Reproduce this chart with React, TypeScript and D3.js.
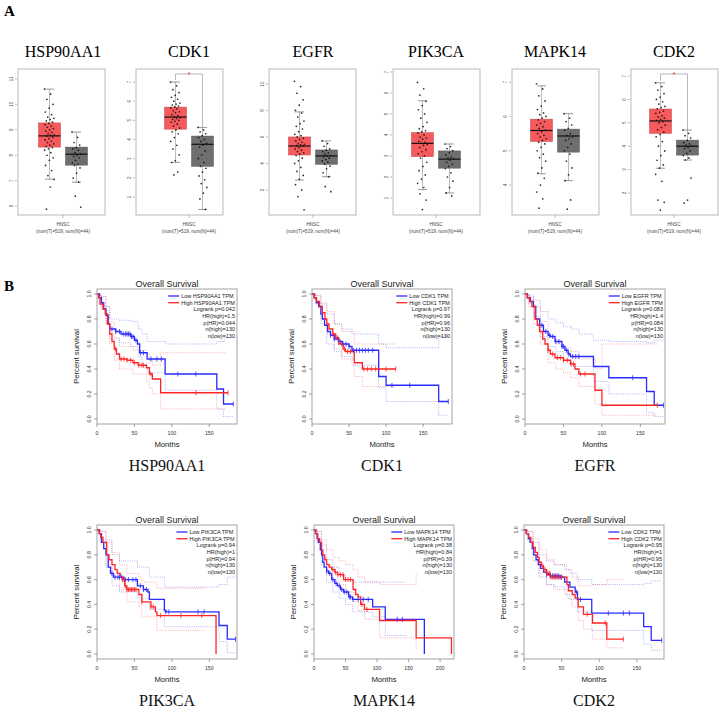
import React from 'react';
import * as d3 from 'd3';

type Step = [number, number];

const genes = ['HSP90AA1', 'CDK1', 'EGFR', 'PIK3CA', 'MAPK14', 'CDK2'];

// ---- Panel A: expression box plots (log2(TPM+1)) ----
const boxTicks = [
  [6, 7, 8, 9, 10, 11],
  [1, 2, 3, 4, 5, 6, 7],
  [2, 4, 6, 8, 10],
  [1, 2, 3, 4, 5, 6, 7],
  [4, 5, 6, 7],
  [2, 3, 4, 5, 6, 7],
];
const boxDomains = [[5.65, 11.39], [0.06, 7.68], [0.11, 11.13], [0.19, 7.14], [3.13, 7.38], [1.06, 7.3]];
// [lower whisker, q1, median, q3, upper whisker]
const tumorStats = [
  [7.06, 8.32, 8.76, 9.27, 10.6],
  [2.81, 4.54, 5.17, 5.69, 7.0],
  [2.75, 4.64, 5.32, 6.0, 7.89],
  [1.4, 2.97, 3.6, 4.11, 5.63],
  [4.33, 5.27, 5.59, 5.92, 6.89],
  [3.06, 4.55, 5.08, 5.59, 6.71],
];
const normalStats = [
  [6.94, 7.61, 8.04, 8.32, 8.91],
  [0.35, 2.6, 3.75, 4.18, 4.63],
  [3.0, 3.94, 4.57, 5.02, 5.7],
  [1.24, 2.42, 2.85, 3.24, 3.57],
  [4.13, 4.96, 5.43, 5.63, 6.08],
  [3.41, 3.62, 4.0, 4.26, 4.69],
];
const tumorPoints = [
  [10.6, 10.4, 10.2, 10.0, 9.85, 9.7, 9.6, 9.5, 9.45, 9.4, 9.35, 9.3, 9.25, 9.2, 9.15, 9.1, 9.05, 9.0, 8.95, 8.9, 8.85, 8.8, 8.78, 8.75, 8.7, 8.65, 8.6, 8.55, 8.5, 8.45, 8.4, 8.35, 8.3, 8.25, 8.2, 8.1, 8.0, 7.9, 7.8, 7.6, 7.4, 7.2, 7.05, 6.75, 5.88],
  [7.0, 6.8, 6.6, 6.45, 6.3, 6.2, 6.1, 6.0, 5.9, 5.85, 5.8, 5.75, 5.7, 5.65, 5.6, 5.5, 5.45, 5.4, 5.3, 5.25, 5.2, 5.15, 5.1, 5.05, 5.0, 4.95, 4.9, 4.8, 4.7, 4.6, 4.5, 4.4, 4.3, 4.1, 3.9, 3.7, 3.5, 3.2, 2.9, 2.8, 2.3, 2.15],
  [10.2, 9.8, 9.3, 8.8, 8.4, 8.0, 7.8, 7.5, 7.2, 7.0, 6.8, 6.6, 6.4, 6.2, 6.1, 6.0, 5.9, 5.8, 5.7, 5.6, 5.5, 5.45, 5.4, 5.35, 5.3, 5.2, 5.1, 5.0, 4.9, 4.8, 4.7, 4.6, 4.4, 4.2, 4.0, 3.7, 3.4, 3.1, 2.8, 2.4, 2.0, 1.5, 0.5],
  [6.5, 6.2, 5.9, 5.6, 5.4, 5.2, 5.0, 4.8, 4.6, 4.4, 4.3, 4.2, 4.15, 4.1, 4.0, 3.9, 3.85, 3.8, 3.7, 3.65, 3.6, 3.55, 3.5, 3.4, 3.3, 3.2, 3.1, 3.0, 2.9, 2.7, 2.5, 2.3, 2.1, 1.9, 1.7, 1.5, 1.2, 0.9, 0.45],
  [6.95, 6.8, 6.6, 6.45, 6.3, 6.2, 6.1, 6.05, 6.0, 5.95, 5.9, 5.85, 5.8, 5.75, 5.7, 5.65, 5.6, 5.55, 5.5, 5.45, 5.4, 5.35, 5.3, 5.25, 5.2, 5.1, 5.0, 4.9, 4.8, 4.7, 4.5, 4.35, 4.2, 4.0, 3.8, 3.6, 3.33],
  [6.71, 6.55, 6.4, 6.25, 6.1, 6.0, 5.9, 5.8, 5.7, 5.65, 5.6, 5.5, 5.45, 5.4, 5.3, 5.25, 5.2, 5.15, 5.1, 5.05, 5.0, 4.9, 4.8, 4.7, 4.6, 4.5, 4.4, 4.2, 4.0, 3.8, 3.6, 3.4, 3.2, 3.06, 2.8, 2.5, 1.7, 1.6, 1.27],
];
const normalPoints = [
  [8.91, 8.7, 8.5, 8.4, 8.3, 8.25, 8.2, 8.1, 8.05, 8.0, 7.95, 7.9, 7.8, 7.7, 7.65, 7.6, 7.5, 7.3, 7.1, 6.94, 6.39, 5.96],
  [4.63, 4.5, 4.4, 4.3, 4.2, 4.1, 4.0, 3.9, 3.8, 3.7, 3.6, 3.4, 3.2, 3.0, 2.8, 2.6, 2.5, 2.3, 2.1, 1.9, 1.7, 1.5, 1.2, 0.9, 0.35],
  [5.7, 5.5, 5.3, 5.1, 5.0, 4.9, 4.8, 4.7, 4.6, 4.55, 4.5, 4.4, 4.3, 4.2, 4.1, 3.95, 3.8, 3.6, 3.3, 3.0, 2.25, 1.87],
  [3.57, 3.45, 3.35, 3.25, 3.15, 3.05, 2.95, 2.9, 2.85, 2.8, 2.7, 2.6, 2.5, 2.4, 2.2, 2.0, 1.8, 1.5, 1.24, 1.1],
  [6.08, 5.95, 5.85, 5.75, 5.65, 5.6, 5.5, 5.45, 5.4, 5.35, 5.3, 5.2, 5.1, 5.0, 4.9, 4.7, 4.5, 4.3, 4.13, 3.57, 3.3],
  [4.69, 4.55, 4.45, 4.35, 4.25, 4.15, 4.1, 4.05, 4.0, 3.95, 3.9, 3.8, 3.7, 3.6, 3.5, 3.41, 2.64, 1.7, 1.57],
];
const significant = [false, true, false, false, false, true];

// ---- Panel B: overall survival (Kaplan-Meier steps: [month, survival]) ----
const survLow: Step[][] = [
  [[3, 0.97], [6, 0.93], [9, 0.88], [12, 0.83], [15, 0.76], [17, 0.72], [25, 0.7], [32, 0.68], [45, 0.66], [50, 0.63], [54, 0.6], [57, 0.53], [67, 0.48], [91, 0.36], [160, 0.24], [169, 0.12]],
  [[3, 0.97], [6, 0.93], [9, 0.9], [12, 0.84], [14, 0.8], [17, 0.75], [21, 0.7], [25, 0.67], [30, 0.64], [36, 0.62], [41, 0.6], [50, 0.58], [54, 0.55], [90, 0.34], [100, 0.27], [171, 0.14]],
  [[3, 0.97], [7, 0.94], [11, 0.9], [14, 0.8], [19, 0.75], [24, 0.7], [30, 0.67], [33, 0.66], [39, 0.62], [48, 0.58], [52, 0.55], [56, 0.52], [59, 0.5], [89, 0.42], [109, 0.33], [158, 0.22], [168, 0.11]],
  [[3, 0.97], [6, 0.9], [9, 0.85], [12, 0.8], [15, 0.7], [18, 0.65], [22, 0.62], [36, 0.6], [54, 0.55], [62, 0.52], [68, 0.5], [70, 0.44], [90, 0.35], [92, 0.34], [163, 0.23], [174, 0.12]],
  [[2, 0.97], [5, 0.93], [7, 0.9], [10, 0.84], [12, 0.8], [14, 0.74], [16, 0.7], [20, 0.67], [23, 0.65], [28, 0.6], [33, 0.57], [37, 0.55], [42, 0.52], [47, 0.5], [55, 0.46], [61, 0.44], [93, 0.38], [113, 0.28], [175, 0]],
  [[3, 0.97], [6, 0.93], [8, 0.9], [11, 0.85], [13, 0.8], [16, 0.76], [19, 0.72], [22, 0.69], [26, 0.66], [30, 0.64], [35, 0.63], [48, 0.62], [54, 0.58], [61, 0.54], [68, 0.5], [71, 0.44], [90, 0.33], [159, 0.22], [169, 0.11]],
];
const survHigh: Step[][] = [
  [[2, 0.97], [4, 0.92], [8, 0.88], [11, 0.84], [14, 0.76], [17, 0.68], [20, 0.62], [23, 0.56], [26, 0.52], [30, 0.48], [40, 0.47], [48, 0.45], [55, 0.43], [66, 0.41], [70, 0.36], [74, 0.32], [85, 0.21]],
  [[3, 0.97], [6, 0.94], [10, 0.9], [14, 0.85], [17.5, 0.8], [20, 0.76], [23, 0.72], [28, 0.68], [32, 0.65], [36, 0.6], [42, 0.56], [45, 0.54], [57, 0.45], [68, 0.4]],
  [[3, 0.97], [6, 0.94], [9, 0.9], [13, 0.8], [16, 0.75], [19, 0.7], [23, 0.64], [26, 0.6], [30, 0.55], [33, 0.52], [39, 0.49], [50, 0.47], [59, 0.44], [65, 0.4], [70, 0.36], [91, 0.23], [100, 0.11]],
  [[3, 0.97], [5, 0.94], [8, 0.9], [13, 0.8], [16, 0.76], [20, 0.72], [24, 0.68], [27, 0.65], [31, 0.62], [34, 0.6], [37, 0.55], [40, 0.52], [56, 0.48], [60, 0.42], [72, 0.38], [78, 0.34], [80, 0.31], [159, 0]],
  [[3, 0.97], [6, 0.93], [9, 0.9], [12, 0.84], [14, 0.8], [17, 0.76], [20, 0.72], [24, 0.7], [28, 0.68], [33, 0.66], [37, 0.64], [47, 0.6], [62, 0.52], [66, 0.48], [70, 0.46], [74, 0.4], [80, 0.36], [104, 0.27], [162, 0.13], [218, 0]],
  [[3, 0.97], [6, 0.94], [9, 0.9], [12, 0.86], [15, 0.82], [18, 0.78], [20, 0.74], [23, 0.71], [26, 0.68], [30, 0.65], [35, 0.62], [57, 0.56], [59, 0.51], [64, 0.48], [68, 0.45], [72, 0.38], [79, 0.32], [91, 0.25], [110, 0.12]],
];
const survLowEnd = [182, 184, 180, 185, 175, 183];
const survHighEnd = [175, 113, 172, 159, 218, 132];

// 95% confidence bands
const ciLowUpper: Step[][] = [
  [[5, 0.98], [12, 0.9], [17, 0.8], [30, 0.79], [45, 0.78], [55, 0.72], [60, 0.68], [67, 0.62], [92, 0.6], [160, 0.62], [170, 0.65]],
  [[5, 0.99], [12, 0.92], [20, 0.84], [30, 0.76], [40, 0.72], [54, 0.68], [90, 0.6], [100, 0.57], [171, 0.66]],
  [[5, 0.99], [11, 0.95], [20, 0.86], [30, 0.8], [40, 0.77], [50, 0.74], [60, 0.72], [70, 0.68], [89, 0.63], [109, 0.62], [158, 0.61], [168, 0.63]],
  [[5, 0.99], [12, 0.92], [20, 0.8], [30, 0.75], [54, 0.7], [70, 0.62], [90, 0.54], [163, 0.56], [174, 0.62]],
  [[5, 0.99], [12, 0.88], [20, 0.76], [30, 0.7], [40, 0.64], [50, 0.6], [61, 0.58]],
  [[5, 0.99], [12, 0.9], [20, 0.8], [30, 0.75], [40, 0.72], [54, 0.68], [61, 0.65], [71, 0.6], [90, 0.56], [159, 0.57], [169, 0.59]],
];
const ciLowLower: Step[][] = [
  [[5, 0.9], [12, 0.76], [17, 0.64], [30, 0.61], [45, 0.58], [55, 0.5], [60, 0.44], [67, 0.37], [91, 0.23], [160, 0.08], [169, 0.02]],
  [[5, 0.92], [12, 0.76], [20, 0.6], [30, 0.54], [40, 0.5], [54, 0.43], [90, 0.25], [100, 0.14], [171, 0.03]],
  [[5, 0.92], [11, 0.82], [20, 0.66], [30, 0.58], [40, 0.54], [50, 0.47], [60, 0.42], [89, 0.3], [109, 0.2], [158, 0.05], [168, 0.02]],
  [[5, 0.92], [12, 0.7], [20, 0.55], [30, 0.5], [54, 0.45], [70, 0.36], [90, 0.22], [163, 0.1], [174, 0.01]],
  [[5, 0.9], [12, 0.72], [20, 0.58], [30, 0.5], [40, 0.45], [50, 0.4], [61, 0.34], [93, 0.3], [113, 0.15]],
  [[5, 0.92], [12, 0.75], [20, 0.62], [30, 0.56], [40, 0.54], [54, 0.48], [61, 0.44], [71, 0.34], [90, 0.19], [159, 0.08], [169, 0.03]],
];
const ciHighUpper: Step[][] = [
  [[5, 0.98], [12, 0.9], [17, 0.78], [23, 0.65], [30, 0.58], [48, 0.55], [66, 0.52], [70, 0.47], [74, 0.43], [85, 0.53]],
  [[5, 0.99], [12, 0.93], [20, 0.86], [30, 0.76], [40, 0.7], [57, 0.6], [68, 0.6]],
  [[5, 0.98], [11, 0.9], [20, 0.78], [30, 0.65], [40, 0.6], [50, 0.57], [59, 0.54], [70, 0.48], [91, 0.4], [100, 0.6]],
  [[5, 0.99], [12, 0.9], [20, 0.82], [30, 0.72], [40, 0.65], [56, 0.62], [60, 0.58], [80, 0.53]],
  [[5, 0.99], [12, 0.92], [20, 0.84], [30, 0.78], [40, 0.75], [50, 0.72], [62, 0.68], [70, 0.62], [80, 0.58], [104, 0.56], [162, 0.65]],
  [[5, 0.99], [12, 0.93], [20, 0.84], [30, 0.76], [40, 0.72], [57, 0.68], [64, 0.62], [72, 0.55], [91, 0.56], [110, 0.6]],
];
const ciHighLower: Step[][] = [
  [[5, 0.88], [12, 0.76], [17, 0.6], [23, 0.47], [30, 0.4], [48, 0.36], [66, 0.3], [70, 0.25], [74, 0.2], [85, 0.08]],
  [[5, 0.93], [12, 0.8], [20, 0.68], [30, 0.56], [40, 0.48], [57, 0.34], [68, 0.26]],
  [[5, 0.9], [11, 0.76], [20, 0.6], [30, 0.45], [40, 0.4], [50, 0.37], [59, 0.33], [70, 0.26], [91, 0.12], [100, 0.03]],
  [[5, 0.9], [12, 0.72], [20, 0.62], [30, 0.52], [40, 0.42], [56, 0.38], [60, 0.3], [80, 0.19]],
  [[5, 0.92], [12, 0.78], [20, 0.64], [30, 0.6], [40, 0.56], [50, 0.5], [62, 0.42], [70, 0.35], [80, 0.28], [104, 0.13], [162, 0.04]],
  [[5, 0.93], [12, 0.8], [20, 0.65], [30, 0.56], [40, 0.52], [57, 0.45], [64, 0.38], [72, 0.27], [79, 0.2], [91, 0.12], [110, 0.05]],
];
const ciLowEnd = [182, 184, 180, 185, 145, 183];
const ciHighEnd = [172, 113, 172, 145, 162, 132];

// censoring times (months)
const censorLow = [
  [20, 25, 30, 35, 38, 40, 42, 44, 46, 48, 52, 58, 62, 72, 80, 86, 108, 132, 182],
  [25, 30, 35, 38, 42, 46, 50, 56, 60, 64, 68, 72, 76, 82, 108, 132, 184],
  [22, 27, 32, 36, 40, 44, 48, 50, 54, 57, 62, 66, 70, 140, 180],
  [20, 24, 28, 30, 33, 38, 42, 48, 52, 58, 62, 66, 92, 96, 135, 143, 185],
  [20, 25, 30, 35, 40, 44, 48, 52, 56, 58, 62, 70, 78, 86, 132, 140],
  [30, 35, 38, 40, 42, 44, 46, 48, 50, 70, 75, 112, 132, 140, 183],
];
const censorHigh = [
  [25, 32, 36, 40, 45, 50, 56, 60, 62, 72, 132, 175],
  [28, 34, 40, 44, 48, 52, 70, 75, 80, 86, 100, 113],
  [30, 36, 42, 46, 50, 55, 60, 63, 72, 78, 172],
  [34, 36, 38, 40, 42, 44, 46, 48, 50, 52, 60, 72, 75, 85, 112, 140],
  [30, 34, 38, 42, 46, 50, 54, 58, 76, 84],
  [25, 28, 30, 32, 34, 36, 38, 40, 42, 44, 46, 50, 84, 108, 132],
];
const logrankP = ['0.042', '0.97', '0.083', '0.94', '0.38', '0.95'];
const hrHigh = ['1.5', '0.99', '1.4', '1', '0.84', '1'];
const pHR = ['0.044', '0.96', '0.084', '0.94', '0.39', '0.95'];
const nHigh = [130, 130, 130, 130, 130, 130];
const nLow = [130, 130, 130, 130, 130, 130];
const survXMax = [187, 189, 182, 187, 222, 186];
const survXTicks = [[0, 50, 100, 150], [0, 50, 100, 150], [0, 50, 100, 150], [0, 50, 100, 150], [0, 50, 100, 150, 200], [0, 50, 100, 150]];
const survYTicks = [0, 0.2, 0.4, 0.6, 0.8, 1.0];

// ---- layout ----
const boxX = [18, 136, 269, 393, 512, 631];
const boxCenter = [45, 53, 44, 43, 43, 43];
const BOX_W = 87, BOX_TOP = 69, BOX_BOT = 215;
const survX = [[97, 312, 525], [97, 314, 524]];
const survY = [[294, 419], [530, 654]];
const SURV_W = 140;

const SANS = "'Liberation Sans', Arial, Helvetica, sans-serif";
const SERIF = "'Liberation Serif', 'Times New Roman', serif";
const BLUE = '#2b2bff';
const RED = '#ff2424';

let ctx: CanvasRenderingContext2D | null = null;
function textWidth(t: string, size: number) {
  if (!ctx) ctx = document.createElement('canvas').getContext('2d');
  if (!ctx) return t.length * size * 0.6;
  ctx.font = `${size}px ${SANS}`;
  return ctx.measureText(t).width;
}

function BoxPanel({ i }: { i: number }) {
  const x0 = boxX[i];
  const cx = x0 + boxCenter[i];
  const y = d3.scaleLinear().domain(boxDomains[i]).range([BOX_BOT, BOX_TOP]);
  const groups = [
    { c: cx - 13.5, st: tumorStats[i], pts: tumorPoints[i], fill: '#f75a5c', stroke: '#b84546', jw: 5 },
    { c: cx + 13.5, st: normalStats[i], pts: normalPoints[i], fill: '#6e6e6e', stroke: '#555', jw: 4.5 },
  ];
  const bw = 22;
  return (
    <g>
      <text x={cx} y={57} textAnchor="middle" fontFamily={SERIF} fontSize={16}>{genes[i]}</text>
      <rect x={x0} y={BOX_TOP} width={BOX_W} height={BOX_BOT - BOX_TOP} fill="none" stroke="#a8a8a8" strokeWidth={0.8} />
      {boxTicks[i].map((t) => (
        <g key={t}>
          <line x1={x0 - 3} x2={x0 - 1} y1={y(t)} y2={y(t)} stroke="#777" strokeWidth={0.5} />
          <text transform={`translate(${x0 - 5},${y(t)}) rotate(-90)`} textAnchor="middle" fontSize={4.5} fill="#555">{t}</text>
        </g>
      ))}
      {groups.map((g, k) => {
        const [lw, q1, md, q3, uw] = g.st;
        return (
          <g key={k}>
            <line x1={g.c} x2={g.c} y1={y(uw)} y2={y(lw)} stroke="#777" strokeWidth={0.5} />
            <line x1={g.c - 4.5} x2={g.c + 4.5} y1={y(uw)} y2={y(uw)} stroke="#555" strokeWidth={0.6} />
            <line x1={g.c - 4.5} x2={g.c + 4.5} y1={y(lw)} y2={y(lw)} stroke="#555" strokeWidth={0.6} />
            <rect x={g.c - bw / 2} y={y(q3)} width={bw} height={y(q1) - y(q3)} fill={g.fill} stroke={g.stroke} strokeWidth={0.5} />
            {g.pts.map((v, j) => (
              <circle key={j} cx={g.c + (((j * 0.6180339) % 1) - 0.5) * 2 * g.jw} cy={y(v)} r={0.85} fill="#111" opacity={0.9} />
            ))}
            <line x1={g.c - bw / 2} x2={g.c + bw / 2} y1={y(md)} y2={y(md)} stroke="#111" strokeWidth={1.2} />
          </g>
        );
      })}
      {significant[i] && (
        <g>
          <path
            d={`M${groups[0].c},${y(groups[0].st[4]) - 2}V${BOX_TOP + 5}H${groups[1].c}V${y(groups[1].st[4])}`}
            fill="none" stroke="#888" strokeWidth={0.6} />
          <text x={cx} y={BOX_TOP + 8} textAnchor="middle" fontSize={7} fill="#ff2020">*</text>
        </g>
      )}
      <line x1={cx} x2={cx} y1={BOX_BOT} y2={BOX_BOT + 3} stroke="#777" strokeWidth={0.5} />
      <text x={cx} y={226} textAnchor="middle" fontSize={4.6} fill="#444">HNSC</text>
      <text x={cx} y={233} textAnchor="middle" fontSize={4.6} fill="#444">(num(T)=519; num(N)=44)</text>
    </g>
  );
}

function valueAt(steps: Step[], t: number) {
  let v = 1;
  for (const s of steps) if (s[0] <= t) v = s[1];
  return v;
}

function SurvPanel({ i }: { i: number }) {
  const row = Math.floor(i / 3), col = i % 3;
  const x0 = survX[row][col];
  const [yTop, yBot] = survY[row];
  const x = d3.scaleLinear().domain([0, survXMax[i]]).range([x0, x0 + SURV_W]);
  const y = d3.scaleLinear().domain([0, 1]).range([yBot, yTop]);
  const fTop = yTop - 5, fBot = yBot + 5, fRight = x0 + SURV_W;
  const line = d3.line<Step>().x((d) => x(d[0])).y((d) => y(d[1])).curve(d3.curveStepAfter);
  const path = (steps: Step[], end: number) => {
    const arr: Step[] = [[0, 1], ...steps.filter((s) => s[0] <= end)];
    arr.push([end, arr[arr.length - 1][1]]);
    return line(arr) || '';
  };
  const lowLabel = `Low ${genes[i]} TPM`;
  const highLabel = `High ${genes[i]} TPM`;
  const fs = 5.5;
  const lx = fRight - 2 - textWidth(highLabel, fs);
  const ly = yTop + 2;
  const gap = 6.7;
  const stats = [
    `Logrank p=${logrankP[i]}`,
    `HR(high)=${hrHigh[i]}`,
    `p(HR)=${pHR[i]}`,
    `n(high)=${nHigh[i]}`,
    `n(low)=${nLow[i]}`,
  ];
  const cxm = x0 + SURV_W / 2;
  return (
    <g fontFamily={SANS}>
      <text x={cxm} y={fTop - 2} textAnchor="middle" fontSize={9} fill="#222">Overall Survival</text>
      {/* confidence bands */}
      <path d={path(ciLowUpper[i], ciLowEnd[i])} fill="none" stroke={BLUE} strokeWidth={0.8} strokeDasharray="1,1.2" opacity={0.45} />
      <path d={path(ciLowLower[i], ciLowEnd[i])} fill="none" stroke={BLUE} strokeWidth={0.8} strokeDasharray="1,1.2" opacity={0.45} />
      <path d={path(ciHighUpper[i], ciHighEnd[i])} fill="none" stroke={RED} strokeWidth={0.8} strokeDasharray="1,1.2" opacity={0.45} />
      <path d={path(ciHighLower[i], ciHighEnd[i])} fill="none" stroke={RED} strokeWidth={0.8} strokeDasharray="1,1.2" opacity={0.45} />
      {/* KM curves */}
      <path d={path(survLow[i], survLowEnd[i])} fill="none" stroke={BLUE} strokeWidth={1.3} />
      <path d={path(survHigh[i], survHighEnd[i])} fill="none" stroke={RED} strokeWidth={1.3} />
      {censorLow[i].map((t, j) => (
        <line key={`l${j}`} x1={x(t)} x2={x(t)} y1={y(valueAt(survLow[i], t)) - 2.5} y2={y(valueAt(survLow[i], t)) + 2.5} stroke={BLUE} strokeWidth={0.8} />
      ))}
      {censorHigh[i].map((t, j) => (
        <line key={`h${j}`} x1={x(t)} x2={x(t)} y1={y(valueAt(survHigh[i], t)) - 2.5} y2={y(valueAt(survHigh[i], t)) + 2.5} stroke={RED} strokeWidth={0.8} />
      ))}
      <rect x={x0} y={fTop} width={SURV_W} height={fBot - fTop} fill="none" stroke="#9a9a9a" strokeWidth={0.9} />
      {/* axes */}
      {survYTicks.map((t) => (
        <g key={t}>
          <line x1={x0 - 3} x2={x0} y1={y(t)} y2={y(t)} stroke="#666" strokeWidth={0.6} />
          <text transform={`translate(${x0 - 6},${y(t)}) rotate(-90)`} textAnchor="middle" fontSize={5.2} fill="#333">{t.toFixed(1)}</text>
        </g>
      ))}
      {survXTicks[i].map((t) => (
        <g key={t}>
          <line x1={x(t)} x2={x(t)} y1={fBot} y2={fBot + 3} stroke="#666" strokeWidth={0.6} />
          <text x={x(t)} y={fBot + 11} textAnchor="middle" fontSize={5.2} fill="#333">{t}</text>
        </g>
      ))}
      <text x={cxm} y={fBot + 23} textAnchor="middle" fontSize={7.7} fill="#222">Months</text>
      <text transform={`translate(${x0 - 18},${(yTop + yBot) / 2}) rotate(-90)`} textAnchor="middle" fontSize={7.7} fill="#222">Percent survival</text>
      {/* legend */}
      <line x1={lx - 13} x2={lx - 2} y1={ly} y2={ly} stroke={BLUE} strokeWidth={1.3} />
      <text x={lx} y={ly} dy="0.35em" fontSize={fs} fill="#222">{lowLabel}</text>
      <line x1={lx - 13} x2={lx - 2} y1={ly + gap} y2={ly + gap} stroke={RED} strokeWidth={1.3} />
      <text x={lx} y={ly + gap} dy="0.35em" fontSize={fs} fill="#222">{highLabel}</text>
      {stats.map((s, k) => (
        <text key={k} x={fRight - 2} y={ly + gap * (k + 2)} dy="0.35em" textAnchor="end" fontSize={fs} fill="#222">{s}</text>
      ))}
      <text x={cxm} y={fBot + 47} textAnchor="middle" fontFamily={SERIF} fontSize={16} fill="#111">{genes[i]}</text>
    </g>
  );
}

export default function App() {
  return (
    <svg width={719} height={708} style={{ position: 'absolute', left: 0, top: 0, background: '#fff' }} fontFamily={SANS}>
      <rect width={719} height={708} fill="#fff" />
      <text x={4} y={16} fontFamily={SERIF} fontWeight="bold" fontSize={15}>A</text>
      {genes.map((g, i) => <BoxPanel key={g} i={i} />)}
      <text x={4} y={291} fontFamily={SERIF} fontWeight="bold" fontSize={15}>B</text>
      {genes.map((g, i) => <SurvPanel key={g} i={i} />)}
    </svg>
  );
}
